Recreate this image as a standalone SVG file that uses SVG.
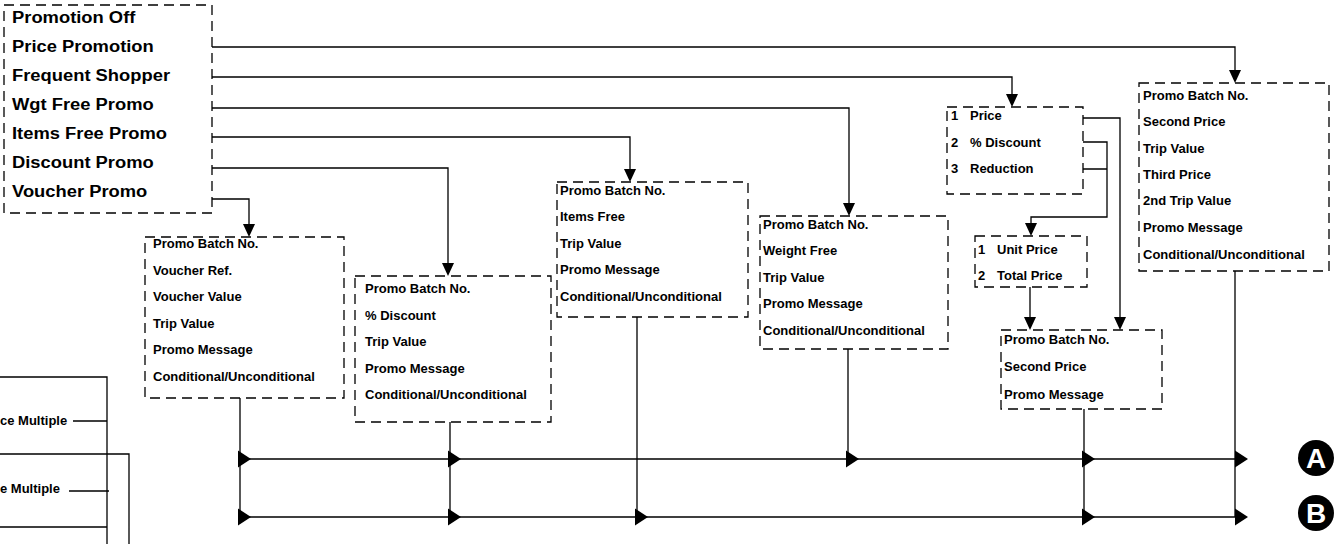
<svg xmlns="http://www.w3.org/2000/svg" xmlns:xlink="http://www.w3.org/1999/xlink" width="1334" height="544" viewBox="0 0 1334 544">
<style>
.box{fill:none;stroke:#000;stroke-width:1.3;stroke-dasharray:10 6}
.t{font-family:"Liberation Sans",Arial,sans-serif;font-weight:bold;font-size:13px;fill:#000}
.tb{font-family:"Liberation Sans",Arial,sans-serif;font-weight:bold;font-size:17px;fill:#000}
.ln{fill:none;stroke:#000;stroke-width:1.3}
.cl{font-family:"Liberation Sans",Arial,sans-serif;font-weight:bold;font-size:28px;fill:#fff;text-anchor:middle}
</style>
<defs>
<path id="ad" d="M-6,-13 L6,-13 L0,0 Z" fill="#000"/>
<path id="ar" d="M0,-8.5 L13,0 L0,8.5 Z" fill="#000"/>
</defs>
<rect width="1334" height="544" fill="#fff"/>

<g id="menu">
<rect class="box" x="4" y="5" width="208" height="208"/>
<g transform="translate(12,0) scale(1.08,1)">
<text class="tb" x="0" y="23">Promotion Off</text>
<text class="tb" x="0" y="52">Price Promotion</text>
<text class="tb" x="0" y="81">Frequent Shopper</text>
<text class="tb" x="0" y="110">Wgt Free Promo</text>
<text class="tb" x="0" y="139">Items Free Promo</text>
<text class="tb" x="0" y="168">Discount Promo</text>
<text class="tb" x="0" y="197">Voucher Promo</text>
</g>
</g>

<g id="voucher">
<rect class="box" x="145" y="237" width="199" height="161"/>
<text class="t" x="153" y="248">Promo Batch No.</text>
<text class="t" x="153" y="274.5">Voucher Ref.</text>
<text class="t" x="153" y="301">Voucher Value</text>
<text class="t" x="153" y="327.5">Trip Value</text>
<text class="t" x="153" y="354">Promo Message</text>
<text class="t" x="153" y="380.5">Conditional/Unconditional</text>
</g>

<g id="discount">
<rect class="box" x="355" y="276" width="196" height="146"/>
<text class="t" x="365" y="293">Promo Batch No.</text>
<text class="t" x="365" y="319.5">% Discount</text>
<text class="t" x="365" y="346">Trip Value</text>
<text class="t" x="365" y="372.5">Promo Message</text>
<text class="t" x="365" y="399">Conditional/Unconditional</text>
</g>

<g id="itemsfree">
<rect class="box" x="557" y="182" width="191" height="135"/>
<text class="t" x="560" y="194.5">Promo Batch No.</text>
<text class="t" x="560" y="221">Items Free</text>
<text class="t" x="560" y="247.5">Trip Value</text>
<text class="t" x="560" y="274">Promo Message</text>
<text class="t" x="560" y="300.5">Conditional/Unconditional</text>
</g>

<g id="weightfree">
<rect class="box" x="760" y="216" width="188" height="133"/>
<text class="t" x="763" y="228.5">Promo Batch No.</text>
<text class="t" x="763" y="255">Weight Free</text>
<text class="t" x="763" y="281.5">Trip Value</text>
<text class="t" x="763" y="308">Promo Message</text>
<text class="t" x="763" y="334.5">Conditional/Unconditional</text>
</g>

<g id="pricetype">
<rect class="box" x="947" y="107" width="136" height="87"/>
<text class="t" x="951" y="120">1</text><text class="t" x="970" y="120">Price</text>
<text class="t" x="951" y="146.5">2</text><text class="t" x="970" y="146.5">% Discount</text>
<text class="t" x="951" y="173">3</text><text class="t" x="970" y="173">Reduction</text>
</g>

<g id="unitprice">
<rect class="box" x="975" y="236" width="112" height="51"/>
<text class="t" x="978" y="254">1</text><text class="t" x="997" y="254">Unit Price</text>
<text class="t" x="978" y="280">2</text><text class="t" x="997" y="280">Total Price</text>
</g>

<g id="secondprice">
<rect class="box" x="1001" y="330" width="161" height="79"/>
<text class="t" x="1004" y="344">Promo Batch No.</text>
<text class="t" x="1004" y="371">Second Price</text>
<text class="t" x="1004" y="398.5">Promo Message</text>
</g>

<g id="priceprom">
<rect class="box" x="1139" y="83" width="190" height="188"/>
<text class="t" x="1143" y="100">Promo Batch No.</text>
<text class="t" x="1143" y="126">Second Price</text>
<text class="t" x="1143" y="153">Trip Value</text>
<text class="t" x="1143" y="179">Third Price</text>
<text class="t" x="1143" y="205">2nd Trip Value</text>
<text class="t" x="1143" y="232">Promo Message</text>
<text class="t" x="1143" y="259">Conditional/Unconditional</text>
</g>

<g id="markerA">
<circle cx="1316" cy="458" r="18" fill="#000"/>
<text class="cl" x="1316" y="468">A</text>
</g>
<g id="markerB">
<circle cx="1316" cy="513" r="18" fill="#000"/>
<text class="cl" x="1316" y="523">B</text>
</g>

<g id="leftpart">
<path class="ln" d="M0,377 H107 V544 M73,421 H107 M0,454 H129 V544 M69,491 H109 M0,527 H107"/>
<text class="t" x="0" y="425" font-size="12">ce Multiple</text>
<text class="t" x="0" y="493" font-size="12.5">e Multiple</text>
</g>

<g id="connectors">
<path class="ln" d="M212,47 H1235 V72 M212,77 H1012 V96 M212,108 H849 V205 M212,137 H630 V171 M212,168 H448 V265 M212,199 H249 V226"/>
<use xlink:href="#ad" x="1235" y="83"/>
<use xlink:href="#ad" x="1012" y="107"/>
<use xlink:href="#ad" x="849" y="216"/>
<use xlink:href="#ad" x="630" y="182"/>
<use xlink:href="#ad" x="448" y="276"/>
<use xlink:href="#ad" x="249" y="237"/>
<path class="ln" d="M1083,118 H1120 V320 M1083,142 H1107 V217 H1031 V226 M1083,169 H1107 M1030,287 V320"/>
<use xlink:href="#ad" x="1031" y="236"/>
<use xlink:href="#ad" x="1120" y="330"/>
<use xlink:href="#ad" x="1030" y="330"/>
<path class="ln" d="M240,398 V517 M450,422 V517 M637,317 V517 M848,349 V459 M1084,409 V517 M1235,271 V517 M238,459 H1240 M238,517 H1240"/>
<use xlink:href="#ar" x="238" y="459"/>
<use xlink:href="#ar" x="448" y="459"/>
<use xlink:href="#ar" x="846" y="459"/>
<use xlink:href="#ar" x="1082" y="459"/>
<use xlink:href="#ar" x="1235" y="459"/>
<use xlink:href="#ar" x="238" y="517"/>
<use xlink:href="#ar" x="448" y="517"/>
<use xlink:href="#ar" x="635" y="517"/>
<use xlink:href="#ar" x="1082" y="517"/>
<use xlink:href="#ar" x="1235" y="517"/>
</g>
</svg>
